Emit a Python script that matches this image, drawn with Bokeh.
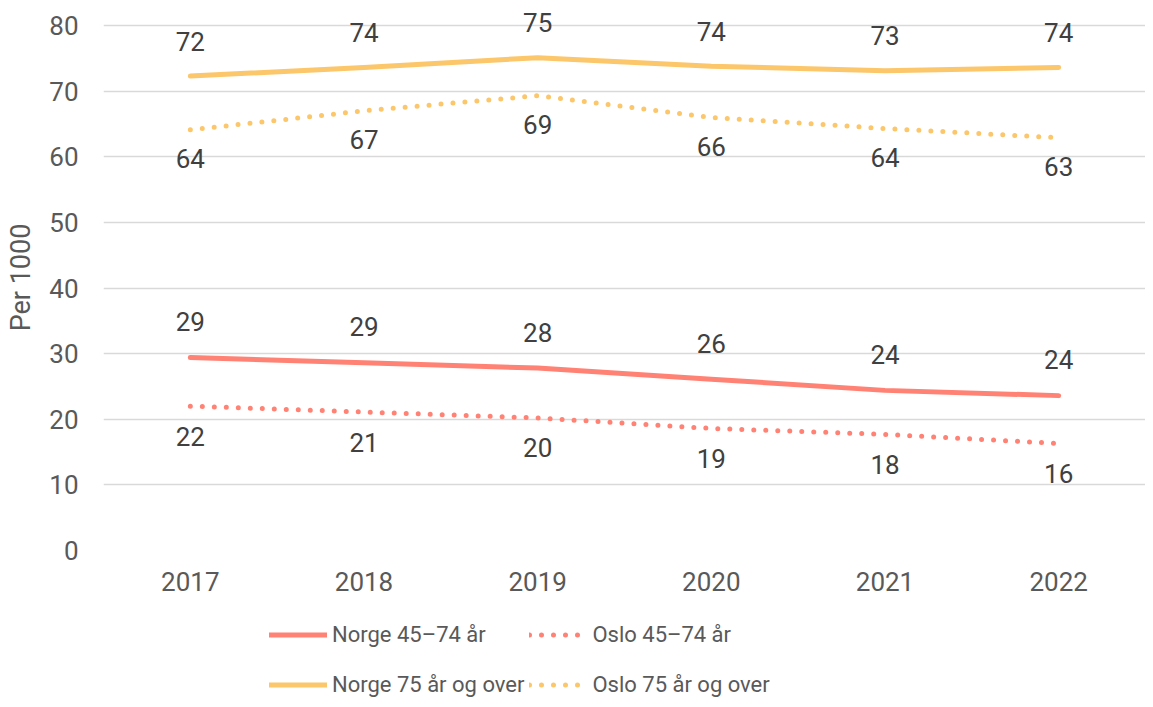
from bokeh.plotting import figure
from bokeh.layouts import column
from bokeh.models import (ColumnDataSource, FactorRange, Range1d, Legend, LegendItem,
                          FixedTicker)
from bokeh.core.properties import value
from bokeh.embed import file_html
from bokeh.resources import INLINE

years = ["2017", "2018", "2019", "2020", "2021", "2022"]
norge_45_74 = [29.4, 28.6, 27.8, 26.1, 24.4, 23.6]
oslo_45_74 = [22.0, 21.1, 20.2, 18.6, 17.7, 16.3]
norge_75 = [72.3, 73.6, 75.1, 73.8, 73.1, 73.6]
oslo_75 = [64.1, 67.0, 69.3, 66.0, 64.3, 62.9]
series_names = ["Norge 45–74 år", "Oslo 45–74 år", "Norge 75 år og over", "Oslo 75 år og over"]
y_ticks = [0, 10, 20, 30, 40, 50, 60, 70, 80]
y_label = "Per 1000"

FONT = "Roboto"
RED = "#FF8274"
YEL = "#FCC66B"
W = 1145

# main chart: y range extends slightly above 80 so that the top data labels are not clipped
p = figure(x_range=FactorRange(*years, range_padding=0), y_range=Range1d(0, 83.2),
           width=W, height=598, output_backend="svg", toolbar_location=None,
           min_border_left=103, min_border_top=4, min_border_right=0, min_border_bottom=48)
p.outline_line_color = None
p.background_fill_color = "white"
p.border_fill_color = "white"

p.xgrid.grid_line_color = None
p.ygrid.grid_line_color = "#D9D9D9"
p.ygrid.grid_line_width = 1.5

p.yaxis.ticker = FixedTicker(ticks=y_ticks)
for ax in (p.xaxis[0], p.yaxis[0]):
    ax.axis_line_color = None
    ax.major_tick_line_color = None
    ax.minor_tick_line_color = None
    ax.major_tick_out = 0
    ax.major_tick_in = 0
    ax.minor_tick_out = 0
    ax.major_label_text_font = FONT
    ax.major_label_text_font_size = "26px"
    ax.major_label_text_color = "#595959"
p.yaxis.major_label_standoff = 25
p.xaxis.major_label_standoff = 21
p.yaxis.axis_label = y_label
p.yaxis.axis_label_text_font = FONT
p.yaxis.axis_label_text_font_size = "27px"
p.yaxis.axis_label_text_font_style = "normal"
p.yaxis.axis_label_text_color = "#595959"
p.yaxis.axis_label_standoff = 9

def lbl(vals):
    return [str(int(v + 0.5)) for v in vals]

specs = [
    (norge_45_74, RED, None, -36),
    (oslo_45_74, RED, "0 12", 30),
    (norge_75, YEL, None, -35),
    (oslo_75, YEL, "0 12", 29),
]

# legend strip below the chart (its lines lie outside its view; only the legend shows)
pl = figure(x_range=FactorRange(*years, range_padding=0), y_range=Range1d(100, 101),
            width=W, height=101, output_backend="svg", toolbar_location=None,
            x_axis_location=None, y_axis_location=None,
            min_border_left=103, min_border_top=0, min_border_right=0, min_border_bottom=0)
pl.outline_line_color = None
pl.grid.visible = False
pl.background_fill_color = "white"
pl.border_fill_color = "white"

items = []
for (vals, col, dash, off), name in zip(specs, series_names):
    src = ColumnDataSource(dict(x=years, y=vals, t=lbl(vals)))
    kw = dict(line_color=col, line_width=5, line_cap="round", line_join="round")
    if dash:
        kw["line_dash"] = dash
    p.line("x", "y", source=src, **kw)
    p.text("x", "y", text="t", source=src, y_offset=off, text_align="center",
           text_baseline="middle", text_font=value(FONT), text_font_size="26px",
           text_color="#404040")
    lr = pl.line("x", "y", source=src, **kw)
    items.append(LegendItem(label=name, renderers=[lr]))

legend = Legend(items=items, orientation="horizontal", ncols=2, location=(166, -8),
                label_text_font=FONT, label_text_font_size="22px", label_text_color="#595959",
                glyph_width=58, glyph_height=45, label_standoff=5, spacing=5,
                label_height=45, label_width=10, padding=0, margin=0, border_line_color=None,
                background_fill_alpha=0)
pl.add_layout(legend, "center")

layout = column(p, pl, spacing=0)
open("out.html", "w").write(file_html(layout, INLINE))
